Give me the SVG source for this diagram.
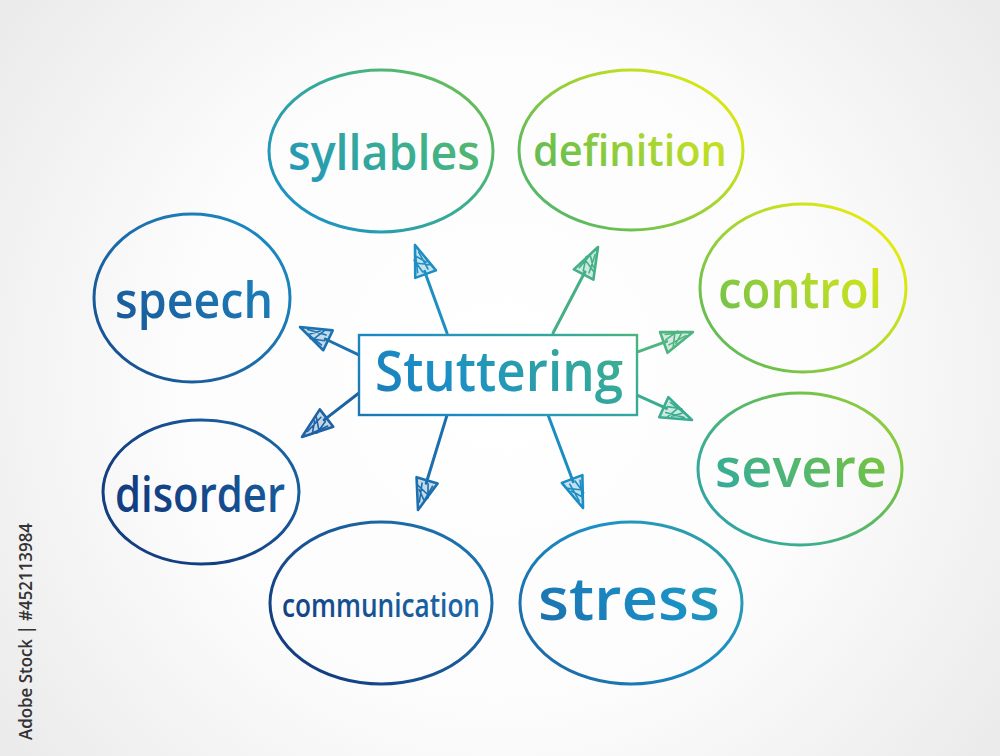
<svg xmlns="http://www.w3.org/2000/svg" xmlns:xlink="http://www.w3.org/1999/xlink" width="1000" height="756" viewBox="0 0 1000 756">
  <defs>
    <radialGradient id="bg" cx="500" cy="378" r="660" gradientUnits="userSpaceOnUse">
      <stop offset="0" stop-color="#ffffff"/>
      <stop offset="0.5" stop-color="#fcfcfc"/>
      <stop offset="1" stop-color="#e8e8e8"/>
    </radialGradient>
    <linearGradient id="ink" x1="267" y1="611" x2="822" y2="56" gradientUnits="userSpaceOnUse">
      <stop offset="0" stop-color="#133f82"/>
      <stop offset="0.2" stop-color="#1c6aa8"/>
      <stop offset="0.37" stop-color="#1a8fc6"/>
      <stop offset="0.54" stop-color="#3aae92"/>
      <stop offset="0.67" stop-color="#6dc04c"/>
      <stop offset="0.8" stop-color="#b8dc28"/>
      <stop offset="0.92" stop-color="#eeee06"/>
      <stop offset="1" stop-color="#f6f000"/>
    </linearGradient>
    <g id="head">
      <polygon points="0,0 -31,-11 -31,11" fill="currentColor" fill-opacity="0.25" stroke="currentColor" stroke-width="2.6" stroke-linejoin="round"/>
      <path d="M-27,-7 L-10,-3 M-28,-2 L-14,-6 M-27,4 L-8,1 M-24,8 L-18,-4 M-20,5 L-12,-2" stroke="currentColor" stroke-width="1.6" fill="none" stroke-linecap="round"/>
    </g>
  </defs>
  <style>
    .node ellipse { fill: none; stroke: url(#ink); stroke-width: 3; }
    .label { font-family: "Open Sans", "Liberation Sans", sans-serif; font-weight: 600; fill: url(#ink); text-anchor: middle; }
    .shaft { stroke: currentColor; stroke-width: 3; stroke-linecap: round; fill: none; }
    .center rect { fill: #ffffff; stroke: url(#ink); stroke-width: 2.4; }
    .stamp { font-family: "Open Sans", "Noto Sans", sans-serif; font-weight: 600; font-size: 18px; fill: #333333; }
  </style>

  <rect x="0" y="0" width="1000" height="756" fill="url(#bg)"/>

  <g id="connectors">
    <g transform="translate(415,245) rotate(-110)" color="#1e8fc2"><line class="shaft" x1="-93.6" y1="0" x2="-28" y2="0"/><use xlink:href="#head"/></g>
    <g transform="translate(598,247) rotate(-62.4)" color="#45b086"><line class="shaft" x1="-97" y1="0" x2="-28" y2="0"/><use xlink:href="#head"/></g>
    <g transform="translate(300,327) rotate(-154.6)" color="#1c72b0"><line class="shaft" x1="-65" y1="0" x2="-28" y2="0"/><use xlink:href="#head"/></g>
    <g transform="translate(302,437) rotate(142.3)" color="#1c62a4"><line class="shaft" x1="-72" y1="0" x2="-28" y2="0"/><use xlink:href="#head"/></g>
    <g transform="translate(693,332) rotate(-19.7)" color="#4fb580"><line class="shaft" x1="-59.5" y1="0" x2="-28" y2="0"/><use xlink:href="#head"/></g>
    <g transform="translate(692,420) rotate(24.4)" color="#3aac90"><line class="shaft" x1="-60.4" y1="0" x2="-28" y2="0"/><use xlink:href="#head"/></g>
    <g transform="translate(418,510) rotate(107)" color="#1b6fae"><line class="shaft" x1="-99" y1="0" x2="-28" y2="0"/><use xlink:href="#head"/></g>
    <g transform="translate(583,508) rotate(69.4)" color="#1b8cc4"><line class="shaft" x1="-99" y1="0" x2="-28" y2="0"/><use xlink:href="#head"/></g>
  </g>

  <g id="stuttering" class="center">
    <rect x="359" y="335" width="278" height="80"/>
    <text class="label" x="499" y="391" font-size="56" textLength="248" lengthAdjust="spacingAndGlyphs">Stuttering</text>
  </g>

  <g id="syllables" class="node">
    <ellipse cx="381" cy="151" rx="112" ry="81"/>
    <text class="label" x="384" y="170" font-size="48" textLength="192" lengthAdjust="spacingAndGlyphs">syllables</text>
  </g>
  <g id="definition" class="node">
    <ellipse cx="631" cy="150" rx="112" ry="80"/>
    <text class="label" x="630" y="166" font-size="44" textLength="194" lengthAdjust="spacingAndGlyphs">definition</text>
  </g>
  <g id="speech" class="node">
    <ellipse cx="192" cy="298" rx="98" ry="84"/>
    <text class="label" x="194" y="318" font-size="50" textLength="158" lengthAdjust="spacingAndGlyphs">speech</text>
  </g>
  <g id="disorder" class="node">
    <ellipse cx="201" cy="492" rx="98" ry="72"/>
    <text class="label" x="200" y="512" font-size="48" textLength="170" lengthAdjust="spacingAndGlyphs">disorder</text>
  </g>
  <g id="control" class="node">
    <ellipse cx="803" cy="288" rx="103" ry="84"/>
    <text class="label" x="800" y="308" font-size="52" textLength="164" lengthAdjust="spacingAndGlyphs">control</text>
  </g>
  <g id="severe" class="node">
    <ellipse cx="800" cy="469" rx="102" ry="76"/>
    <text class="label" x="801" y="487" font-size="54" textLength="172" lengthAdjust="spacingAndGlyphs">severe</text>
  </g>
  <g id="communication" class="node">
    <ellipse cx="381" cy="603" rx="111" ry="81"/>
    <text class="label" x="381" y="617" font-size="32" textLength="198" lengthAdjust="spacingAndGlyphs">communication</text>
  </g>
  <g id="stress" class="node">
    <ellipse cx="631" cy="603" rx="111" ry="81"/>
    <text class="label" x="629" y="620" font-size="60" textLength="182" lengthAdjust="spacingAndGlyphs">stress</text>
  </g>

  <text class="stamp" transform="translate(32,740) rotate(-90)" textLength="217" lengthAdjust="spacingAndGlyphs">Adobe Stock | #452113984</text>
</svg>
